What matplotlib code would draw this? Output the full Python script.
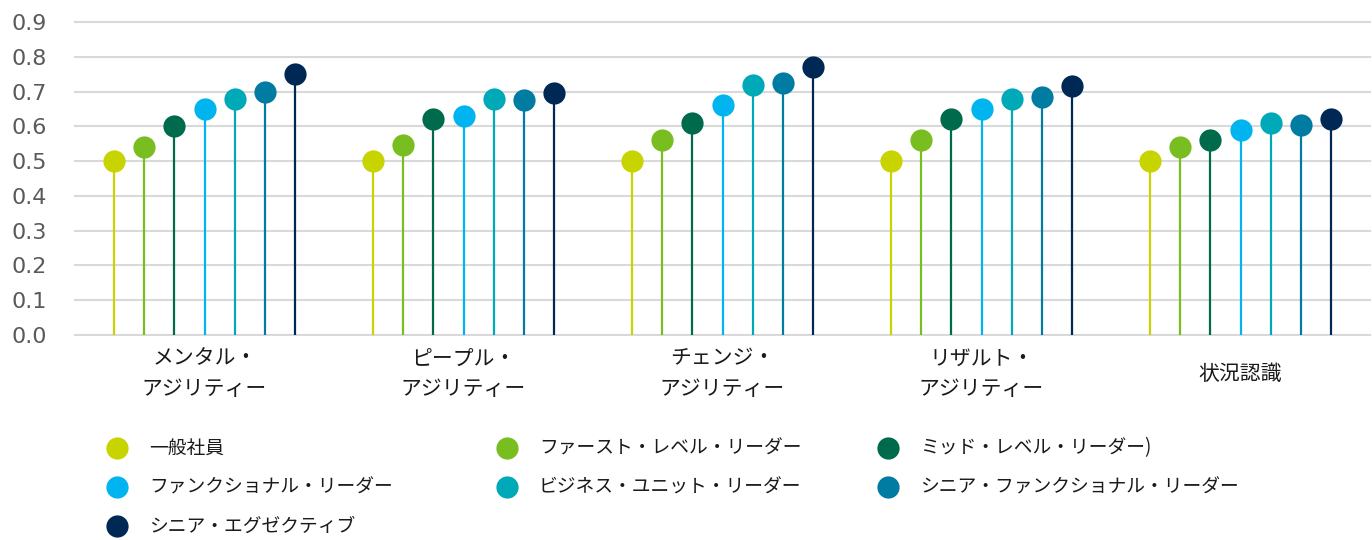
import matplotlib

matplotlib.use("Agg")

import matplotlib.pyplot as plt
import numpy as np

plt.rcParams["font.family"] = ["Noto Sans CJK JP", "DejaVu Sans"]

categories = [
    "メンタル・\nアジリティー",
    "ピープル・\nアジリティー",
    "チェンジ・\nアジリティー",
    "リザルト・\nアジリティー",
    "状況認識",
]

levels = [
    "一般社員",
    "ファースト・レベル・リーダー",
    "ミッド・レベル・リーダー)",
    "ファンクショナル・リーダー",
    "ビジネス・ユニット・リーダー",
    "シニア・ファンクショナル・リーダー",
    "シニア・エグゼクティブ",
]

colors = ["#c8d400", "#78be20", "#006a4d", "#00b5ef", "#00a9b7", "#007ca3", "#002855"]

employee = [0.50, 0.50, 0.50, 0.50, 0.50]
first_level = [0.54, 0.545, 0.56, 0.56, 0.54]
mid_level = [0.60, 0.62, 0.61, 0.62, 0.56]
functional = [0.65, 0.63, 0.66, 0.65, 0.59]
business_unit = [0.68, 0.68, 0.72, 0.68, 0.61]
senior_functional = [0.70, 0.675, 0.725, 0.685, 0.605]
senior_executive = [0.75, 0.695, 0.77, 0.715, 0.62]

series = [employee, first_level, mid_level, functional,
          business_unit, senior_functional, senior_executive]

y_ticks = np.round(np.arange(0, 0.91, 0.1), 1)

W, H = 1372, 540
fig = plt.figure(figsize=(W / 100, H / 100), dpi=100)
ax = fig.add_axes([75 / W, 1 - 335 / H, (1370 - 75) / W, (335 - 22) / H])

step = 0.117
base = np.arange(len(categories)) + 0.5
for j, (vals, c) in enumerate(zip(series, colors)):
    x = base + (j - 3) * step
    ax.vlines(x, 0, vals, color=c, lw=1.6, zorder=2)
    ax.plot(x, vals, "o", ms=16, color=c, mec="none", zorder=3)

ax.set_xlim(0, len(categories))
ax.set_ylim(0, 0.9)
ax.set_yticks(y_ticks)
ax.set_yticklabels([f"{v:.1f}" for v in y_ticks], fontsize=16, color="#5a5a5a", family="DejaVu Sans")
ax.yaxis.grid(True, color="#d9d9d9", lw=1.5)
for gl in ax.get_ygridlines():
    gl.set_clip_on(False)
ax.set_axisbelow(True)
ax.tick_params(axis="y", length=0, pad=20)

ax.set_xticks(base)
ax.set_xticklabels(categories, fontsize=15, color="#1a1a1a", linespacing=1.52, va="center")
ax.tick_params(axis="x", length=0, pad=28)

for s in ax.spines.values():
    s.set_visible(False)

# legend drawn in pixel coordinates, three columns filled row by row
lg = fig.add_axes([0, 0, 1, 1], zorder=-1)
lg.set_xlim(0, W)
lg.set_ylim(H, 0)
lg.axis("off")
col_x = [117, 507, 888]
row_y = [448, 487, 526]
for j, (name, c) in enumerate(zip(levels, colors)):
    mx, my = col_x[j % 3], row_y[j // 3]
    lg.plot(mx, my, "o", ms=16, color=c, mec="none")
    lg.text(mx + 32, my, name, fontsize=13.5, color="#1a1a1a", va="center", ha="left")

fig.savefig("out.png", dpi=100)
